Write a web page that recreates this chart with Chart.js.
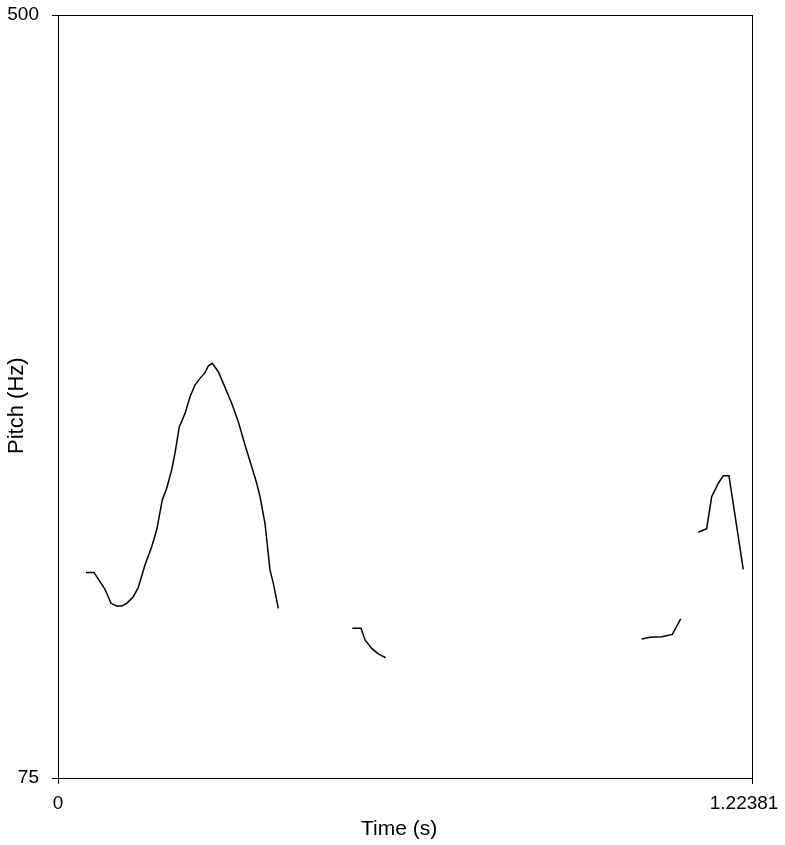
<!DOCTYPE html>
<html>
<head>
<meta charset="utf-8">
<script src="https://cdn.jsdelivr.net/npm/chart.js@4"></script>
<style>
  html, body { margin: 0; padding: 0; background: #fff; }
  #wrap { width: 785px; height: 845px; }
</style>
</head>
<body>
<div id="wrap"><canvas id="c" width="785" height="845"></canvas></div>
<script>
// Time axis range (s) and pitch axis range (Hz)
const xTicks = [0, 1.22381];
const yTicks = [75, 500];

// Pitch contour segments: times (s) and pitch (Hz)
const seg1Time = [0.0494, 0.0635, 0.0829, 0.0935, 0.1035, 0.1123, 0.1211, 0.1328, 0.1416, 0.1534, 0.1652, 0.1740, 0.1839, 0.1917, 0.2005, 0.2063, 0.2139, 0.2240, 0.2328, 0.2416, 0.2504, 0.2592, 0.2650, 0.2721, 0.2827, 0.2915, 0.3063, 0.3179, 0.3298, 0.3416, 0.3504, 0.3562, 0.3650, 0.3738, 0.3797, 0.3885];
const seg1Pitch = [189.4, 189.4, 180.1, 172.3, 170.8, 170.8, 172.3, 176.0, 181.2, 193.6, 203.8, 213.1, 229.9, 236.4, 246.6, 255.9, 270.7, 278.1, 287.4, 293.9, 297.6, 300.8, 304.5, 306.0, 301.3, 294.8, 283.7, 273.5, 260.5, 248.4, 239.2, 231.7, 216.9, 190.9, 183.4, 169.5];

const seg2Time = [0.5190, 0.5343, 0.5414, 0.5532, 0.5648, 0.5779];
const seg2Pitch = [158.4, 158.4, 151.9, 147.2, 144.1, 142.0];

const seg3Time = [1.0293, 1.0439, 1.0646, 1.0833, 1.0981];
const seg3Pitch = [152.4, 153.4, 153.7, 155.0, 163.6];

const seg4Time = [1.1291, 1.1439, 1.1527, 1.1644, 1.1732, 1.1832, 1.2084];
const seg4Pitch = [211.9, 213.9, 231.7, 239.2, 243.4, 243.4, 191.2];

function pts(t, p) { return t.map((x, i) => ({ x: x, y: p[i] })); }

const segs = [[seg1Time, seg1Pitch], [seg2Time, seg2Pitch], [seg3Time, seg3Pitch], [seg4Time, seg4Pitch]];

const FONT = "'Liberation Sans', Arial, Helvetica, sans-serif";

const frame = {
  id: 'frame',
  afterDraw(chart) {
    const a = chart.chartArea, ctx = chart.ctx;
    ctx.save();
    ctx.strokeStyle = '#000';
    ctx.lineWidth = 1;
    ctx.strokeRect(Math.round(a.left) + 0.5, Math.round(a.top) + 0.5, Math.round(a.right - a.left), Math.round(a.bottom - a.top));
    ctx.restore();
  }
};

new Chart(document.getElementById('c'), {
  type: 'line',
  data: {
    datasets: segs.map(s => ({
      data: pts(s[0], s[1]),
      borderColor: '#000',
      borderWidth: 1.5,
      pointRadius: 0,
      tension: 0,
      fill: false
    }))
  },
  options: {
    responsive: false,
    animation: false,
    layout: { padding: { left: 0, right: 33, top: 15, bottom: 0 } },
    plugins: { legend: { display: false }, tooltip: { enabled: false } },
    scales: {
      x: {
        type: 'linear',
        min: xTicks[0], max: xTicks[1],
        afterBuildTicks: s => { s.ticks = xTicks.map(v => ({ value: v })); },
        afterFit: s => { s.height = 67; s.paddingLeft = 0; s.paddingRight = 0; },
        grid: { drawOnChartArea: false, drawTicks: true, tickLength: 6, color: '#000' },
        border: { display: false },
        ticks: { color: '#000', font: { family: FONT, size: 19 }, padding: 8, maxRotation: 0, autoSkip: false,
                 callback: (v, i) => i === xTicks.length - 1 ? String(v) + '   ' : String(v) },
        title: { display: true, text: 'Time (s)  ', color: '#000', font: { family: FONT, size: 21 }, padding: { top: 0, bottom: 3 } }
      },
      y: {
        type: 'linear',
        min: yTicks[0], max: yTicks[1],
        afterBuildTicks: s => { s.ticks = yTicks.map(v => ({ value: v })); },
        afterFit: s => { s.width = 58; s.paddingTop = 0; s.paddingBottom = 0; },
        grid: { drawOnChartArea: false, drawTicks: true, tickLength: 6, color: '#000' },
        border: { display: false },
        ticks: { color: '#000', font: { family: FONT, size: 19 }, padding: 13, autoSkip: false,
                 callback: v => String(v) },
        title: { display: true, text: 'Pitch (Hz)   ', color: '#000', font: { family: FONT, size: 22 }, padding: { top: 4, bottom: 0 } }
      }
    }
  },
  plugins: [frame]
});
</script>
</body>
</html>
